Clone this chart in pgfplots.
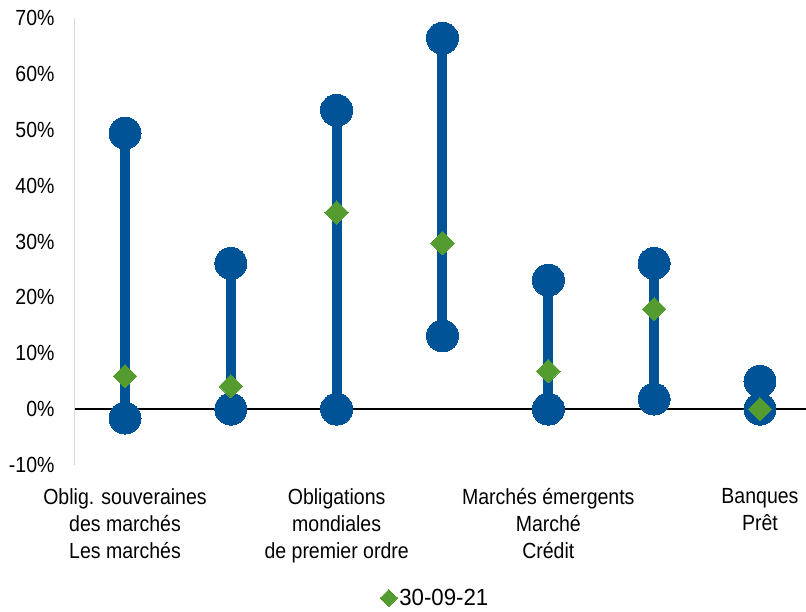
\documentclass[border=0pt]{standalone}
\usepackage{pgfplots}
\pgfplotsset{compat=1.18}
\usepackage{fontspec}
\setmainfont{Liberation Sans}[FakeStretch=0.89]
\newfontfamily\legfont{Liberation Sans}[FakeStretch=0.95]
\definecolor{dblue}{RGB}{0,83,150}
\definecolor{dgreen}{RGB}{84,155,48}
\begin{document}
\begin{tikzpicture}
\path[use as bounding box] (-75bp,-147bp) rectangle (731bp,465bp);
\begin{axis}[
  scale only axis,
  width=731bp, height=447bp,
  at={(0,0)}, anchor=south west,
  xmin=-0.4725, xmax=6.435,
  ymin=-10, ymax=70,
  ytick={-10,0,10,20,30,40,50,60,70},
  yticklabel={\pgfmathprintnumber{\tick}\%},
  xtick={0,2,4,6},
  xticklabels={{Oblig. souveraines\\des marchés\\Les marchés},{Obligations\\mondiales\\de premier ordre},{Marchés émergents\\Marché\\Crédit},{Banques\\Prêt}},
  xticklabel style={align=center, font=\fontsize{22}{27}\selectfont, yshift=-20bp},
  yticklabel style={font=\fontsize{22}{23}\selectfont, xshift=-17bp},
  /pgf/number format/assume math mode=true,
  axis lines*=left,
  x axis line style={draw=none},
  y axis line style={draw=black!15, line width=1bp, -},
  major tick length=0pt,
  clip=false,
  legend style={at={(axis description cs:0.493,-0.2975)}, anchor=center, draw=none, font=\legfont\fontsize{23.5}{25}\selectfont, inner sep=0pt},
  legend cell align=left,
]
\addplot[black, line width=1.5bp, forget plot] coordinates {(-0.4725,0) (6.435,0)};
\addplot[dblue, line width=10bp, forget plot] coordinates {(0,-1.6) (0,49.4)};
\addplot[dblue, line width=10bp, forget plot] coordinates {(1,0) (1,26.1)};
\addplot[dblue, line width=10bp, forget plot] coordinates {(2,0) (2,53.5)};
\addplot[dblue, line width=10bp, forget plot] coordinates {(3,13.1) (3,66.4)};
\addplot[dblue, line width=10bp, forget plot] coordinates {(4,0) (4,23.1)};
\addplot[dblue, line width=10bp, forget plot] coordinates {(5,1.8) (5,26.1)};
\addplot[dblue, line width=10bp, forget plot] coordinates {(6,0) (6,5.0)};
% high
\addplot[dblue, only marks, mark=*, mark size=16bp, mark options={fill=dblue, draw=dblue, line width=0pt}, forget plot] coordinates {
(0,49.4) (1,26.1) (2,53.5) (3,66.4) (4,23.1) (5,26.1) (6,5.0)};
% low
\addplot[dblue, only marks, mark=*, mark size=16bp, mark options={fill=dblue, draw=dblue, line width=0pt}, forget plot] coordinates {
(0,-1.6) (1,0) (2,0) (3,13.1) (4,0) (5,1.8) (6,0)};
% current
\addplot[dgreen, only marks, mark=square*, mark size=8.3bp, mark options={fill=dgreen, draw=dgreen, line width=0pt, rotate=45}, forget plot] coordinates {
(0,5.9) (1,4.1) (2,35.2) (3,29.7) (4,6.8) (5,17.9) (6,0)};
\addlegendimage{dgreen, only marks, mark=square*, mark size=6bp, mark options={fill=dgreen, draw=dgreen, line width=0pt, rotate=45}}
\addlegendentry{30-09-21}
\end{axis}
\end{tikzpicture}
\end{document}
